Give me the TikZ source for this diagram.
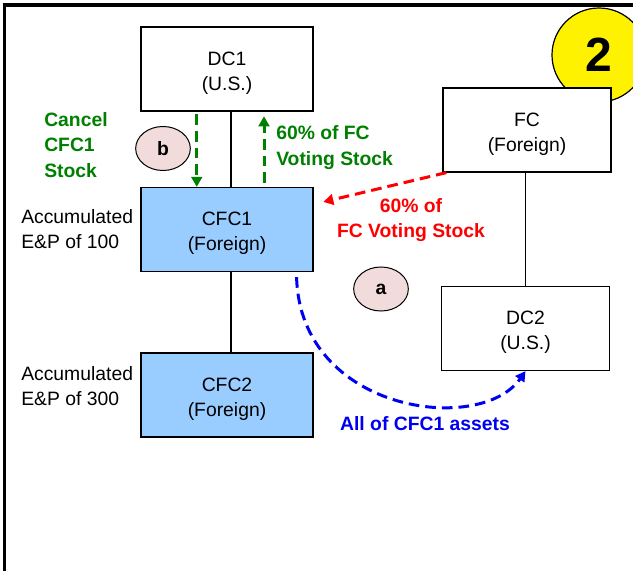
\documentclass[tikz,border=0pt]{standalone}
\usepackage{fontspec}
\setmainfont{Liberation Sans}
\usetikzlibrary{arrows.meta,shapes.geometric}
\definecolor{cfcblue}{RGB}{153,204,255}
\definecolor{dkgreen}{RGB}{0,128,0}
\definecolor{pinkc}{RGB}{242,220,219}
\definecolor{myred}{RGB}{255,0,0}
\definecolor{myblue}{RGB}{0,0,240}
\newcommand{\topstrut}{\rule{0pt}{16pt}}
\begin{document}
\begin{tikzpicture}[x=0.75pt,y=-0.75pt,
  txt/.style={font=\fontsize{14.5}{18.75}\selectfont, inner sep=0pt},
  boldtxt/.style={font=\bfseries\fontsize{14.5}{19}\selectfont, inner sep=0pt},
  box/.style={draw=black, line width=0.9pt, fill=white, minimum width=129pt, minimum height=63pt, align=center, inner sep=0pt, txt},
  rbox/.style={box, minimum width=126pt},
  bluebox/.style={box, fill=cfcblue},
  ell/.style={ellipse, draw=black, line width=0.75pt, fill=pinkc, minimum width=41pt, minimum height=33pt, inner sep=0pt, boldtxt},
  link/.style={draw=black, line width=0.9pt},
  dasharrow/.style={line width=2.25pt, dash pattern=on 8pt off 4.5pt, -{Triangle[length=7.5pt,width=8pt]}},
  garrow/.style={dasharrow, draw=dkgreen},
  rarrow/.style={dasharrow, draw=myred},
  barrow/.style={dasharrow, draw=myblue}
]
\useasboundingbox (0,0) rectangle (633,571);
\fill[white] (0,0) rectangle (633,571);
\draw[line width=2.4pt] (4.5,571) -- (4.5,5) -- (633,5);

\node[circle, draw=black, line width=0.9pt, fill=yellow, minimum size=70.5pt, inner sep=0pt,
      font=\bfseries\fontsize{36}{36}\selectfont] (num) at (599,55) {2};

\node[box] (DC1) at (227,69) {\topstrut DC1\\(U.S.)};
\node[bluebox] (CFC1) at (227,229.5) {\topstrut CFC1\\(Foreign)};
\node[bluebox] (CFC2) at (227,395) {\topstrut CFC2\\(Foreign)};
\node[rbox] (FC) at (527,130) {\topstrut FC\\(Foreign)};
\node[rbox] (DC2) at (525.5,328.5) {\topstrut DC2\\(U.S.)};

\node[txt, anchor=west, align=left] (acc1) at (21,229) {Accumulated\\E\&P of 100};
\node[txt, anchor=west, align=left] (acc2) at (21,386) {Accumulated\\E\&P of 300};
\node[boldtxt, text=dkgreen, anchor=west, align=left] (cancel) at (44,145) {Cancel\\CFC1\\Stock};
\node[boldtxt, text=dkgreen, anchor=west, align=left] (vs) at (276,147.5) {60\% of FC\\Voting Stock};
\node[boldtxt, text=myred, align=center] (rl) at (411,220) {60\% of\\FC Voting Stock};
\node[boldtxt, text=myblue] (al) at (425,424) {All of CFC1 assets};

\node[ell] (b) at (163,148.5) {b};
\node[ell] (a) at (381,289) {a};

\draw[link] ([xshift=3pt]DC1.south) -- ([xshift=3pt]CFC1.north);
\draw[link] ([xshift=3pt]CFC1.south) -- ([xshift=3pt]CFC2.north);
\draw[link] ([xshift=-1pt]FC.south) -- ([xshift=-1pt]FC.south |- DC2.north);

\draw[garrow] ([xshift=-22.7pt,yshift=-2pt]DC1.south) -- ([xshift=-22.7pt]CFC1.north);
\draw[garrow] ([xshift=27.75pt,yshift=3pt]CFC1.north) -- ([xshift=27.75pt,yshift=-3.5pt]DC1.south);

\coordinate (redtip) at ([xshift=7.3pt,yshift=-11.25pt]CFC1.north east);
\draw[rarrow] ([xshift=3pt]FC.south west) -- (redtip);

\draw[barrow] ([xshift=-12.75pt,yshift=-3.75pt]CFC1.south east) .. controls (300,412) and (480,436) .. (DC2.south);
\end{tikzpicture}
\end{document}
